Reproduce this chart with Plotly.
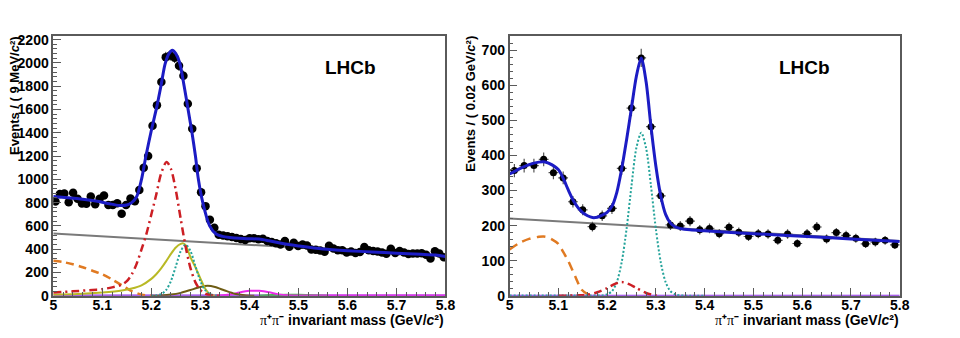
import numpy as np
import plotly.graph_objects as go

# ---------------- Left panel (9 MeV bins) ----------------
L_BIN_LO, L_BIN_W, L_NBINS = 5.0, 0.009, 89
L_DATA = [810, 874, 878, 803, 885, 833, 793, 791, 852, 786,
          833, 861, 780, 780, 795, 705, 780, 835, 812, 908,
          1100, 1200, 1460, 1636, 1837, 2050, 2065, 2045, 1975, 1890,
          1650, 1435, 1096, 890, 770, 653, 584, 525, 518, 512,
          505, 497, 488, 480, 495, 493, 485, 490, 470, 462,
          452, 440, 470, 420, 455, 428, 440, 432, 398, 395,
          388, 378, 430, 405, 392, 390, 372, 380, 368, 375,
          418, 390, 385, 380, 372, 360, 404, 368, 385, 372,
          358, 362, 362, 365, 352, 321, 382, 363, 330]

LB_X = [5.000, 5.030, 5.060, 5.090, 5.115, 5.135, 5.150, 5.160, 5.170, 5.180, 5.189, 5.200, 5.211,
        5.220, 5.228, 5.236, 5.243, 5.250, 5.258, 5.267, 5.275, 5.283, 5.290, 5.296, 5.305, 5.319,
        5.332, 5.345, 5.360, 5.380, 5.400, 5.420, 5.440, 5.460, 5.480, 5.500, 5.550, 5.600, 5.650,
        5.700, 5.750, 5.780, 5.800]
LB_Y = [852, 842, 830, 812, 790, 776, 780, 800, 850, 1000, 1200, 1420, 1620,
        1810, 1990, 2080, 2110, 2080, 2000, 1800, 1600, 1400, 1200, 1000, 800, 600,
        530, 510, 500, 493, 490, 487, 472, 455, 440, 428, 402, 387, 376,
        366, 357, 350, 338]

LGR_X, LGR_Y = [5.0, 5.8], [535, 340]
LO_X = [5.00, 5.02, 5.04, 5.06, 5.08, 5.10, 5.12, 5.14, 5.16, 5.18, 5.20]
LO_Y = [300, 290, 270, 245, 215, 185, 140, 90, 40, 10, 0]
LR_X = [5.00, 5.04, 5.08, 5.10, 5.12, 5.14, 5.15, 5.16, 5.17, 5.18, 5.19, 5.20, 5.21, 5.22,
        5.231, 5.24, 5.25, 5.26, 5.27, 5.28, 5.29, 5.30, 5.31, 5.32, 5.34]
LR_Y = [28, 38, 50, 57, 72, 95, 125, 183, 274, 398, 531, 698, 868, 1051,
        1150, 1090, 906, 659, 421, 235, 115, 49, 18, 5, 0]
LY_X = [5.00, 5.05, 5.10, 5.14, 5.16, 5.18, 5.20, 5.21, 5.22, 5.23, 5.24, 5.25, 5.26, 5.265,
        5.27, 5.28, 5.29, 5.30, 5.31, 5.32, 5.33]
LY_Y = [8, 15, 28, 45, 62, 90, 145, 185, 235, 295, 360, 415, 445, 450,
        435, 330, 245, 150, 60, 12, 0]
LT_X = [5.20, 5.21, 5.22, 5.23, 5.24, 5.25, 5.26, 5.27, 5.28, 5.29, 5.30, 5.31, 5.32, 5.33, 5.34]
LT_Y = [0, 3, 14, 48, 126, 253, 383, 440, 383, 253, 126, 48, 14, 3, 0]
LBR_X = [5.20, 5.22, 5.24, 5.26, 5.28, 5.30, 5.315, 5.33, 5.35, 5.37, 5.39, 5.41]
LBR_Y = [0, 3, 10, 25, 50, 75, 85, 75, 45, 18, 5, 0]
LM_X = [5.32, 5.34, 5.36, 5.38, 5.40, 5.41, 5.42, 5.44, 5.46, 5.48, 5.50, 5.80]
LM_Y = [0, 2, 10, 28, 42, 44, 42, 30, 12, 4, 2, 2]
LG_X = [5.42, 5.45, 5.48, 5.50, 5.53, 5.56]
LG_Y = [0, 6, 9, 8, 4, 0]
LP_X, LP_Y = [5.0, 5.8], [3, 3]

# ---------------- Right panel (20 MeV bins) ----------------
R_BIN_LO, R_BIN_W, R_NBINS = 5.0, 0.02, 40
R_DATA = [357, 371, 371, 389, 351, 336, 268, 245, 197, 228,
          249, 363, 535, 678, 482, 285, 202, 199, 213, 188,
          192, 177, 195, 181, 169, 177, 176, 158, 176, 149,
          177, 196, 162, 180, 172, 164, 148, 153, 158, 145]

RB_X = [5.00, 5.02, 5.04, 5.06, 5.07, 5.08, 5.10, 5.11, 5.12, 5.13, 5.14, 5.15, 5.16, 5.17,
        5.18, 5.19, 5.20, 5.21, 5.22, 5.23, 5.24, 5.25, 5.26, 5.27, 5.28, 5.29, 5.30, 5.31,
        5.32, 5.33, 5.34, 5.35, 5.37, 5.40, 5.50, 5.60, 5.70, 5.80]
RB_Y = [347, 362, 374, 381, 382, 378, 360, 335, 303, 274, 252, 237, 228, 223,
        224, 230, 238, 255, 295, 362, 445, 535, 625, 678, 610, 482, 370, 285,
        232, 207, 196, 192, 188, 185, 177, 170, 162, 155]
RGR_X, RGR_Y = [5.0, 5.8], [220, 156]
RO_X = [5.00, 5.02, 5.04, 5.06, 5.07, 5.08, 5.10, 5.11, 5.12, 5.135, 5.148, 5.16, 5.17]
RO_Y = [132, 150, 162, 168, 169, 166, 148, 125, 100, 54, 17, 5, 0]
RR_X = [5.10, 5.14, 5.16, 5.18, 5.20, 5.215, 5.23, 5.245, 5.26, 5.28, 5.30, 5.31]
RR_Y = [0, 1, 3, 10, 22, 33, 39, 33, 22, 8, 1, 0]
RT_X = [5.00, 5.15, 5.19, 5.20, 5.21, 5.22, 5.23, 5.24, 5.25, 5.26, 5.27, 5.28, 5.29, 5.30,
        5.31, 5.32, 5.33, 5.34, 5.35, 5.40]
RT_Y = [1, 1, 1, 4, 13, 39, 96, 191, 313, 421, 465, 421, 313, 191,
        96, 39, 13, 4, 1, 0]
RP_X, RP_Y = [5.0, 5.8], [1, 1]

L_YTITLE = "Events / ( 9 MeV/<i>c</i>²)"
R_YTITLE = "Events / ( 0.02 GeV/<i>c</i>²)"
PI = "<span style=\"font-family:'Liberation Serif';font-weight:normal\">π</span>"
XTITLE = PI + "⁺" + PI + "⁻ invariant mass (GeV/<i>c</i>²)"

BLUE = '#1c1cc4'
GRAY = '#7a7a7a'
ORANGE = '#e07a22'
RED = '#cc1f24'
YELLOW = '#b9b925'
TEAL = '#23a39a'
BROWN = '#6e5c14'
MAGENTA = '#ea2ae8'
GREEN = '#3cbf3c'
PURPLE = '#8a2be2'

fig = go.Figure()

def curve(x, y, color, width, dash, xa, ya, shape='spline'):
    fig.add_trace(go.Scatter(x=x, y=y, mode='lines', xaxis=xa, yaxis=ya, showlegend=False,
                             line=dict(color=color, width=width, dash=dash, shape=shape,
                                       smoothing=0.8)))

# left components
curve(LP_X, LP_Y, PURPLE, 2, 'solid', 'x', 'y', 'linear')
curve(LGR_X, LGR_Y, GRAY, 2, 'solid', 'x', 'y', 'linear')
curve(LO_X, LO_Y, ORANGE, 2.5, '8px,5px', 'x', 'y')
curve(LG_X, LG_Y, GREEN, 2, 'solid', 'x', 'y')
curve(LM_X, LM_Y, MAGENTA, 2, 'solid', 'x', 'y')
curve(LBR_X, LBR_Y, BROWN, 2, 'solid', 'x', 'y')
curve(LY_X, LY_Y, YELLOW, 2, 'solid', 'x', 'y')
curve(LT_X, LT_Y, TEAL, 2, '2px,2px', 'x', 'y')
curve(LR_X, LR_Y, RED, 2.5, '8px,4px,2px,4px', 'x', 'y')

l_centers = L_BIN_LO + L_BIN_W * (np.arange(L_NBINS) + 0.5)
fig.add_trace(go.Scatter(x=l_centers, y=L_DATA, mode='markers', xaxis='x', yaxis='y',
                         showlegend=False, marker=dict(color='black', size=8.5),
                         error_y=dict(type='sqrt', color='#333', thickness=1, width=0),
                         error_x=dict(type='constant', value=L_BIN_W / 2, color='#333',
                                      thickness=1, width=0)))
curve(LB_X, LB_Y, BLUE, 3, 'solid', 'x', 'y')

# right components
curve(RP_X, RP_Y, PURPLE, 1.5, 'solid', 'x2', 'y2', 'linear')
curve(RGR_X, RGR_Y, GRAY, 2, 'solid', 'x2', 'y2', 'linear')
curve(RO_X, RO_Y, ORANGE, 2.5, '9px,6px', 'x2', 'y2')
curve(RT_X, RT_Y, TEAL, 2, '2px,2px', 'x2', 'y2')
curve(RR_X, RR_Y, RED, 2.5, '8px,4px,2px,4px', 'x2', 'y2')

r_centers = R_BIN_LO + R_BIN_W * (np.arange(R_NBINS) + 0.5)
fig.add_trace(go.Scatter(x=r_centers, y=R_DATA, mode='markers', xaxis='x2', yaxis='y2',
                         showlegend=False, marker=dict(color='black', size=7),
                         error_y=dict(type='sqrt', color='#555', thickness=1.2, width=0),
                         error_x=dict(type='constant', value=R_BIN_W / 2, color='#555',
                                      thickness=1.2, width=0)))
curve(RB_X, RB_Y, BLUE, 3, 'solid', 'x2', 'y2')

TICKFONT = dict(family='Liberation Sans', size=14, color='black', weight='bold')
FRAME = '#5a5a5a'

def xaxis(domain, anchor):
    return dict(domain=domain, anchor=anchor, range=[5.0, 5.8], dtick=0.1, tick0=5.0,
                showgrid=False, zeroline=False, showline=True, mirror=True, linecolor=FRAME,
                linewidth=1.5, ticks='inside', ticklen=8, tickcolor=FRAME, tickwidth=1,
                tickfont=TICKFONT, ticklabelstandoff=-4,
                minor=dict(dtick=0.02, ticks='inside', ticklen=4, tickcolor=FRAME, showgrid=False))

def yaxis(domain, anchor, rng, dtick, mdtick):
    return dict(domain=domain, anchor=anchor, range=rng, dtick=dtick, tick0=0, tickformat='d',
                showgrid=False, zeroline=False, showline=True, mirror=True, linecolor=FRAME,
                linewidth=1.5, ticks='inside', ticklen=8, tickcolor=FRAME, tickwidth=1,
                tickfont=TICKFONT,
                minor=dict(dtick=mdtick, ticks='inside', ticklen=4, tickcolor=FRAME, showgrid=False))

YDOM = [1 - 302.5 / 338, 1 - 33 / 338]
fig.update_layout(
    width=960, height=338, margin=dict(l=0, r=0, t=0, b=0),
    paper_bgcolor='white', plot_bgcolor='white', showlegend=False,
    xaxis=xaxis([50 / 960, 448 / 960], 'y'),
    yaxis=yaxis(YDOM, 'x', [0, 2233], 200, 40),
    xaxis2=xaxis([513 / 960, 909 / 960], 'y2'),
    yaxis2=yaxis(YDOM, 'x2', [0, 741], 100, 20),
)

TITLEFONT = dict(family='Liberation Sans', size=14, color='black', weight='bold')
YTFONT = dict(family='Liberation Sans', size=13, color='black', weight='bold')
ann = []
ann.append(dict(text=XTITLE, xref='paper', yref='paper', x=449 / 960, y=0,
                xanchor='right', yanchor='bottom', showarrow=False, font=TITLEFONT))
ann.append(dict(text=XTITLE, xref='paper', yref='paper', x=910 / 960, y=0,
                xanchor='right', yanchor='bottom', showarrow=False, font=TITLEFONT))
ann.append(dict(text=L_YTITLE, xref='paper', yref='paper', x=1 / 960, y=1 - 31 / 338,
                xanchor='left', yanchor='top', textangle=-90, showarrow=False, font=YTFONT))
ann.append(dict(text=R_YTITLE, xref='paper', yref='paper', x=464 / 960, y=1 - 31 / 338,
                xanchor='left', yanchor='top', textangle=-90, showarrow=False, font=YTFONT))
ann.append(dict(text='LHCb', xref='paper', yref='paper', x=352 / 960, y=1 - 66 / 338,
                xanchor='center', yanchor='middle', showarrow=False,
                font=dict(family='Liberation Sans', size=19, color='black', weight='bold')))
ann.append(dict(text='LHCb', xref='paper', yref='paper', x=812 / 960, y=1 - 66 / 338,
                xanchor='center', yanchor='middle', showarrow=False,
                font=dict(family='Liberation Sans', size=19, color='black', weight='bold')))
fig.update_layout(annotations=ann)

fig.write_html("out.html")
